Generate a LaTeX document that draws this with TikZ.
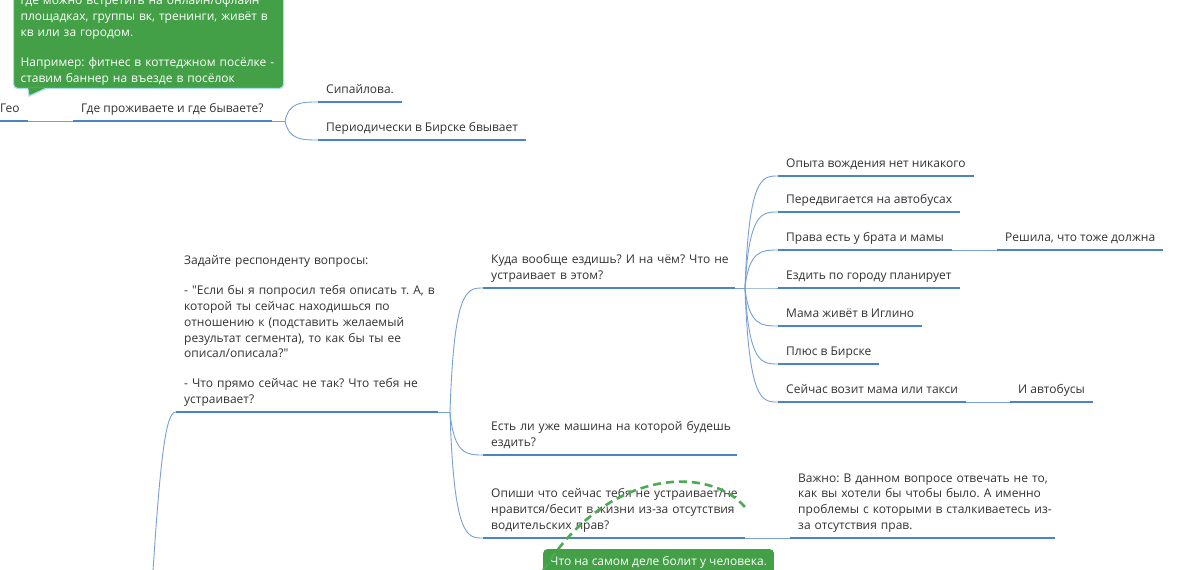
\documentclass[tikz,border=0pt]{standalone}
\usepackage{fontspec}
\setmainfont{Open Sans}
\usepackage{tikz}
\usetikzlibrary{positioning}
\definecolor{lineblue}{RGB}{74, 132, 196}
\definecolor{linkblue}{RGB}{120, 160, 212}
\definecolor{inkgrey}{RGB}{51, 51, 51}
\definecolor{notegreen}{RGB}{67, 160, 71}
\definecolor{noteedge}{RGB}{168, 222, 236}
\definecolor{relgreen}{RGB}{76, 170, 80}
\newcommand{\mapfont}{\fontsize{12pt}{15.8pt}\selectfont\frenchspacing}

\begin{document}
\begin{tikzpicture}[x=1pt, y=-1pt,
    topic/.style={anchor=south west, inner xsep=8pt, inner ysep=3.5pt, align=left,
                  font=\mapfont, text=inkgrey, execute at end node=\strut,
                  append after command={\pgfextra{\let\topicnode=\tikzlastnode}
                      (\topicnode.south west) edge[uline] (\topicnode.south east)}},
    uline/.style={draw=lineblue, line width=2.6pt},
    link/.style={draw=linkblue, line width=0.9pt},
    branch/.style={to path={.. controls ([xshift=4pt]\tikztostart |- \tikztotarget)
                     and ([xshift=-16pt]\tikztotarget) .. (\tikztotarget)}},
    note/.style={rounded corners=4pt, fill=notegreen, text=white, font=\mapfont,
                 align=left, inner xsep=7pt}]

    \useasboundingbox (0,0) rectangle (1184,570);
    \clip (0,0) rectangle (1184,570);
    \fill[white] (0,0) rectangle (1184,570);

    % upper branch with the note
    \node[note, text width=256pt, anchor=south west, inner ysep=1.5pt, draw=noteedge, line width=1.2pt] (geonote) at (13,89)
        {где можно встретить на онлайн/офлайн\\ площадках, группы вк, тренинги, живёт в\\ кв или за городом.\\[14pt]
         Например:  фитнес в коттеджном посёлке -\\ ставим баннер на въезде в посёлок\strut};
    \fill[notegreen] ([xshift=15pt, yshift=1pt]geonote.south west) -- (29,96) -- ([xshift=32pt, yshift=1pt]geonote.south west) -- cycle;
    \draw[noteedge, line width=1.2pt] ([xshift=15pt]geonote.south west) -- (29,96) -- ([xshift=32pt]geonote.south west);

    \node[topic] (geo) at (-8,121) {Гео};
    \node[topic] (where) at (73,121) {Где проживаете и где бываете?};
    \coordinate (f1) at (285,121);
    \node[topic] (sipa) at (318,102) {Сипайлова.};
    \node[topic] (birsk) at (318,140) {Периодически в Бирске бвывает};
    \draw[link] (geo.south east) -- (where.south west);
    \draw[link] (where.south east) -- (f1);
    \draw[link] (f1) to[branch] (sipa.south west);
    \draw[link] (f1) to[branch] (birsk.south west);

    % lower branch
    \coordinate (root) at (150,620);
    \node[topic, text width=246pt] (ask) at (176,412)
        {Задайте респонденту вопросы:\\[14pt]
         \mbox{- \textquotedbl Если бы я попросил тебя описать т. А, в}\\ которой ты сейчас находишься по\\
         отношению к (подставить желаемый\\ результат сегмента), то как бы ты ее\\ описал/описала?\textquotedbl\\[14pt]
         \mbox{- Что прямо сейчас не так? Что тебя не}\\ устраивает?};
    \draw[link] (root) .. controls (160,450) and (166,412) .. (ask.south west);
    \coordinate (f2) at (450,412);
    \draw[link] (ask.south east) -- (f2);

    \node[topic, text width=236pt] (ride) at (483,288)
        {\mbox{Куда вообще ездишь? И на чём? Что не}\\ устраивает в этом?};
    \node[topic, text width=238pt] (car) at (483,455)
        {\mbox{Есть ли уже машина на которой будешь}\\ ездить?};
    \node[topic, text width=246pt] (describe) at (483,538)
        {\mbox{Опиши что сейчас тебя не устраивает/не}\\ \mbox{нравится/бесит в жизни из-за отсутствия}\\ водительских прав?};
    \draw[link] (f2) to[branch] (ride.south west);
    \draw[link] (f2) to[branch] (car.south west);
    \draw[link] (f2) to[branch] (describe.south west);

    \coordinate (f3) at (745,288);
    \draw[link] (ride.south east) -- (f3);
    \node[topic] (exp) at (778,176) {Опыта вождения нет никакого};
    \node[topic] (bus) at (778,212) {Передвигается на автобусах};
    \node[topic] (rights) at (778,250) {Права есть у брата и мамы};
    \node[topic] (city) at (778,288) {Ездить по городу планирует};
    \node[topic] (mom) at (778,326) {Мама живёт в Иглино};
    \node[topic] (plus) at (778,364) {Плюс в Бирске};
    \node[topic] (taxi) at (778,402) {Сейчас возит мама или такси};
    \draw[link] (f3) to[branch] (exp.south west);
    \draw[link] (f3) to[branch] (bus.south west);
    \draw[link] (f3) to[branch] (rights.south west);
    \draw[link] (f3) to[branch] (city.south west);
    \draw[link] (f3) to[branch] (mom.south west);
    \draw[link] (f3) to[branch] (plus.south west);
    \draw[link] (f3) to[branch] (taxi.south west);

    \node[topic] (decided) at (997,250) {Решила, что тоже должна};
    \node[topic] (buses) at (1010,402) {И автобусы};
    \draw[link] (rights.south east) -- (decided.south west);
    \draw[link] (taxi.south east) -- (buses.south west);

    \node[topic, text width=249pt] (important) at (790,538)
        {\mbox{Важно: В данном вопросе отвечать не то,}\\ \mbox{как вы хотели бы чтобы было. А именно}\\
         \mbox{проблемы с которыми в сталкиваетесь из-}\\ за отсутствия прав.};
    \draw[link] (describe.south east) -- (important.south west);

    % note and relation at the bottom
    \node[note, anchor=north west, inner ysep=5pt] (pain) at (543,549)
        {\strut Что на самом деле болит у человека.\\ \strut};
    \coordinate (relstart) at (525,605);
    \draw[relgreen, line width=2.6pt, dash pattern=on 8pt off 5pt]
        (relstart) .. controls (585,470) and (705,460) .. ([yshift=4pt]describe.east);
\end{tikzpicture}
\end{document}
